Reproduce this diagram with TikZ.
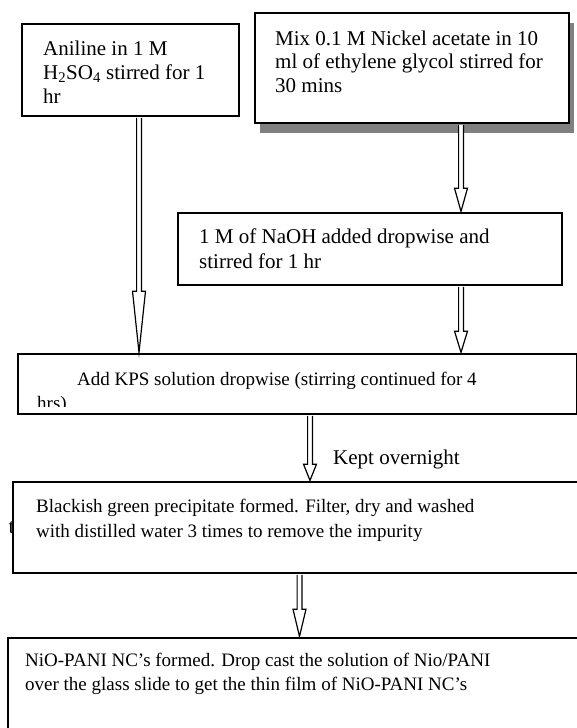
\documentclass[tikz,border=0pt]{standalone}
\usepackage{fontspec}
\setmainfont{Liberation Serif}
\usetikzlibrary{calc,shadows}
\definecolor{shadowgray}{HTML}{808080}
\tikzset{
  box/.style={draw=black, line width=1.6pt, fill=white, inner sep=0pt, anchor=center},
  bigtxt/.style={anchor=north west, inner sep=0pt, align=left, font={\fontsize{21pt}{24pt}\selectfont}},
  smalltxt/.style={anchor=north west, inner sep=0pt, align=left, font={\fontsize{19pt}{24pt}\selectfont}},
  harr/.style={draw=black, line width=1.2pt, fill=white, line join=miter}
}
\newcommand\harrow[3]{%
  \draw[harr] ($(#1)+(-2.4,1)$) -- ($(#2)+(-2.4,-#3)$) -- ($(#2)+(-6.5,-#3)$) -- ($(#2)+(0,-0.8)$)
    -- ($(#2)+(6.5,-#3)$) -- ($(#2)+(2.4,-#3)$) -- ($(#1)+(2.4,1)$);}
\begin{document}
\begin{tikzpicture}[x=1pt,y=-1pt]
\clip (0,0) rectangle (577,728);
\fill[white] (0,0) rectangle (577,728);
% boxes
\node[box, minimum width=217pt, minimum height=92pt] (b1) at (130.5,70) {};
\node[box, minimum width=314pt, minimum height=110pt,
  drop shadow={shadow xshift=5pt, shadow yshift=-10pt, fill=shadowgray, opacity=1}] (b2) at (412,68) {};
\node[box, minimum width=384pt, minimum height=72pt] (b3) at (370,249) {};
\node[box, minimum width=559pt, minimum height=60pt] (b4) at (297.5,384) {};
\node[bigtxt] (tt) at (8.5,521) {t};
\node[box, minimum width=577pt, minimum height=91pt] (b5) at (301.5,527.5) {};
\node[box, minimum width=582pt, minimum height=102pt] (b6) at (299,689) {};
% texts
\node[bigtxt] (t1) at (43,39) {\rule{0pt}{16pt}Aniline in 1 M\\H\textsubscript{2}SO\textsubscript{4} stirred for 1\\hr};
\node[bigtxt, font={\fontsize{21pt}{23.5pt}\selectfont}] (t2) at (275,29) {\rule{0pt}{16pt}Mix 0.1 M Nickel acetate in 10\\ml of ethylene glycol stirred for\\30 mins};
\node[bigtxt, font={\fontsize{21pt}{25pt}\selectfont}] (t3) at (199,227) {\rule{0pt}{16pt}1 M of NaOH added dropwise and\\stirred for 1 hr};
\begin{scope}
\clip (18,354) rectangle (577,406);
\node[smalltxt] (t4) at (37,370) {\rule{0pt}{15pt}\hspace*{40pt}Add KPS solution dropwise (stirring continued for 4\\hrs)};
\end{scope}
\node[smalltxt, font={\fontsize{19pt}{25pt}\selectfont}] (t5) at (36,497) {\rule{0pt}{15pt}Blackish green precipitate formed. Filter, dry and washed\\with distilled water 3 times to remove the impurity};
\node[smalltxt] (t6) at (25,651) {\rule{0pt}{15pt}NiO-PANI NC’s formed. Drop cast the solution of Nio/PANI\\over the glass slide to get the thin film of NiO-PANI NC’s};
\node[bigtxt] (kept) at (333,448) {\rule{0pt}{16pt}Kept overnight};
% arrows
\coordinate (s1) at (b1.south -| 139,0);
\coordinate (e1) at (b4.north -| 139,0);
\coordinate (s2) at (b2.south -| 461,0);
\coordinate (e2) at (b3.north -| 461,0);
\coordinate (s3) at (b3.south -| 461,0);
\coordinate (e3) at (b4.north -| 461,0);
\coordinate (s4) at (b4.south -| 310,0);
\coordinate (e4) at (b5.north -| 310,0);
\coordinate (s5) at (b5.south -| 299.5,0);
\coordinate (e5) at (b6.north -| 299.5,0);
\harrow{s1}{e1}{62}
\harrow{s2}{e2}{24}
\harrow{s3}{e3}{22}
\harrow{s4}{e4}{17}
\harrow{s5}{e5}{28}
\end{tikzpicture}
\end{document}
